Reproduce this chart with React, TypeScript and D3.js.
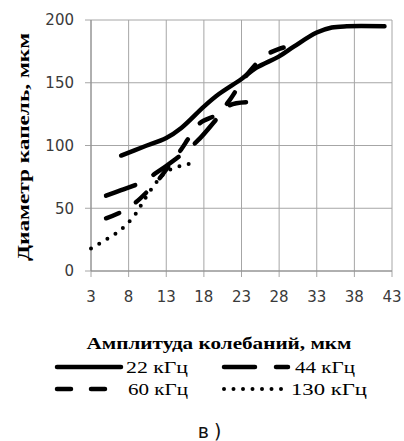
import React from "react";
import * as d3 from "d3";

const xTicks = [3, 8, 13, 18, 23, 28, 33, 38, 43];
const yTicks = [0, 50, 100, 150, 200];

const x22 = [7, 10, 13, 15, 18, 20, 23, 25, 28, 30, 33, 35, 37, 42];
const y22 = [92, 99, 106, 114, 131, 141, 153, 162, 171, 179, 190, 194, 195, 195];

const x44 = [5, 7, 9.3, 11.5, 14.3, 17.2, 19.9, 21.4, 23.6];
const y44 = [60, 64.5, 69.6, 77.5, 89.4, 104, 122.5, 132, 134.5];

const x60 = [5, 7, 9, 10.6, 12, 13.5, 15, 16, 17.5, 19.8, 21.4, 23.4, 26, 28, 30];
const y60 = [42, 47, 55, 64, 73, 85, 97, 106, 118, 125, 136, 154, 171, 177, 180];

const x130 = [3, 5, 7, 9, 10, 11, 12, 13, 15, 17];
const y130 = [18, 25, 33, 46, 56, 65, 73, 79, 84, 86];

const seriesNames = ["22 кГц", "44 кГц", "60 кГц", "130 кГц"];
const xTitle = "Амплитуда колебаний, мкм";
const yTitle = "Диаметр капель, мкм";
const caption = "в)";

const W = 404;
const H = 441;

export default function App() {
  const x = d3.scaleLinear().domain([3, 43]).range([91, 392]);
  const y = d3.scaleLinear().domain([0, 200]).range([271, 20]);

  const mk = (xs: number[], ys: number[]) =>
    d3
      .line<number>()
      .x((_, i) => x(xs[i]))
      .y((d) => y(d))
      .curve(d3.curveCatmullRom.alpha(0.5))(ys) || "";

  const styles = [
    { dash: "none", w: 4.5 },
    { dash: "31 21", w: 4.5 },
    { dash: "14 20", w: 4.5 },
    { dash: "0 9.5", w: 4 },
  ];
  const paths = [mk(x22, y22), mk(x44, y44), mk(x60, y60), mk(x130, y130)];

  const grid = "#a6a6a6";
  const serif = '"Times New Roman", "Liberation Serif", Tinos, Times, serif';
  const sans = '"DejaVu Sans", Verdana, sans-serif';

  const legendPos = [
    { lx: 55, ly: 367, tx: 126, tl: 62 },
    { lx: 222, ly: 367, tx: 295, tl: 60 },
    { lx: 55, ly: 389, tx: 128, tl: 60 },
    { lx: 222, ly: 389, tx: 291, tl: 76 },
  ];

  return (
    <div style={{ position: "absolute", left: 0, top: 0 }}>
      <svg width={W} height={H} style={{ display: "block", background: "#fff" }}>
        {xTicks.map((t) => (
          <line key={"gx" + t} x1={x(t)} x2={x(t)} y1={y(200)} y2={y(0) + 6} stroke={grid} strokeWidth={1} />
        ))}
        {yTicks.map((t) => (
          <line key={"gy" + t} x1={x(3) - 6} x2={x(43)} y1={y(t)} y2={y(t)} stroke={grid} strokeWidth={1} />
        ))}
        <line x1={x(3)} x2={x(3)} y1={y(200)} y2={y(0)} stroke="#8c8c8c" strokeWidth={1} />
        <line x1={x(3)} x2={x(43)} y1={y(0)} y2={y(0)} stroke="#8c8c8c" strokeWidth={1} />
        {yTicks.map((t) => (
          <text key={"ly" + t} x={74} y={y(t)} dy="0.36em" textAnchor="end" style={{ fontFamily: sans, fontSize: 15 }} fill="#3a3a3a">
            {t}
          </text>
        ))}
        {xTicks.map((t) => (
          <text key={"lx" + t} x={x(t)} y={302} textAnchor="middle" style={{ fontFamily: sans, fontSize: 15 }} fill="#3a3a3a">
            {t}
          </text>
        ))}
        {paths.map((p, i) => (
          <path
            key={"s" + i}
            d={p}
            fill="none"
            stroke="#000"
            strokeWidth={styles[i].w}
            strokeDasharray={styles[i].dash}
            strokeLinecap="round"
            strokeLinejoin="round"
          />
        ))}
        <text
          x={219}
          y={349}
          textAnchor="middle"
          style={{ fontFamily: serif, fontWeight: "bold", fontSize: 17 }}
          textLength={265}
          lengthAdjust="spacingAndGlyphs"
          fill="#000"
        >
          {xTitle}
        </text>
        <text
          transform={`translate(29,147) rotate(-90)`}
          textAnchor="middle"
          style={{ fontFamily: serif, fontWeight: "bold", fontSize: 17 }}
          textLength={228}
          lengthAdjust="spacingAndGlyphs"
          fill="#000"
        >
          {yTitle}
        </text>
        {legendPos.map((lp, i) => (
          <g key={"lg" + i}>
            <line
              x1={lp.lx + 2}
              x2={lp.lx + 66}
              y1={lp.ly}
              y2={lp.ly}
              stroke="#000"
              strokeWidth={styles[i].w}
              strokeDasharray={styles[i].dash}
              strokeLinecap="round"
            />
            <text
              x={lp.tx}
              y={lp.ly + 6}
              style={{ fontFamily: serif, fontSize: 17 }}
              textLength={lp.tl}
              lengthAdjust="spacingAndGlyphs"
              fill="#000"
            >
              {seriesNames[i]}
            </text>
          </g>
        ))}
        <text x={212} y={438} textAnchor="middle" style={{ fontFamily: sans, fontSize: 19, letterSpacing: 5 }} fill="#111">
          {caption}
        </text>
      </svg>
    </div>
  );
}
